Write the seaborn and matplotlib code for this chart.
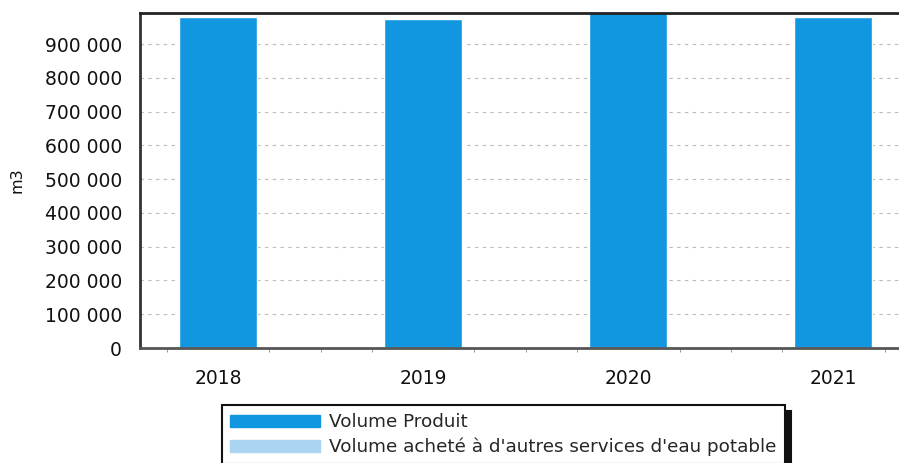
import pandas as pd
import seaborn as sns
import matplotlib.pyplot as plt
from matplotlib.ticker import FuncFormatter, MultipleLocator

# Values
years = ['2018', '2019', '2020', '2021']
volume_produit = [980000, 974000, 995000, 981000]
volume_achete = [0, 0, 0, 0]
series_names = ['Volume Produit', "Volume acheté à d'autres services d'eau potable"]

df = pd.DataFrame({
    'Année': years * 2,
    'm3': volume_produit + volume_achete,
    'Série': [series_names[0]] * 4 + [series_names[1]] * 4,
})

custom_palette = {series_names[0]: '#1196e0', series_names[1]: '#a9d5f2'}

sns.set_style('white')
plt.rcParams['font.family'] = ['DejaVu Sans']

fig = plt.figure(figsize=(8.99, 4.63), dpi=100)
ax = fig.add_axes([140 / 899, 1 - 348 / 463, 1 - 140 / 899, (348 - 13) / 463])

sns.barplot(data=df, x='Année', y='m3', hue='Série', palette=custom_palette,
            dodge=False, width=0.38, saturation=1, ax=ax, legend=False)

ax.set_xlim(-0.38, 3.32)
ax.set_ylim(0, 992000)
ax.yaxis.set_major_locator(MultipleLocator(100000))
ax.yaxis.set_major_formatter(FuncFormatter(lambda v, p: f'{int(v):,}'.replace(',', ' ')))
ax.xaxis.set_minor_locator(MultipleLocator(0.25))
ax.tick_params(axis='y', which='major', length=4, color='#888888', labelsize=13.5, pad=9,
               labelcolor='#111111')
ax.tick_params(axis='x', which='major', length=4, color='#888888', labelsize=13.5, pad=11,
               labelcolor='#111111')
ax.tick_params(axis='x', which='minor', length=3, color='#888888', bottom=True)

for y in range(100000, 1000000, 100000):
    ax.axhline(y, color='#bbbbbb', linestyle=(0, (3, 4)), linewidth=0.8, zorder=0)

ax.spines['left'].set_linewidth(2)
ax.spines['left'].set_color('#333333')
ax.spines['top'].set_linewidth(2)
ax.spines['top'].set_color('#222222')
ax.spines['bottom'].set_linewidth(2)
ax.spines['bottom'].set_color('#555555')
ax.spines['right'].set_visible(False)

ax.set_xlabel('')
ax.set_ylabel('m3', fontsize=11.5, color='#111111')
ax.yaxis.set_label_coords(-0.152, 0.5)

handles = [plt.Rectangle((0, 0), 1, 1, color=custom_palette[s]) for s in series_names]
leg = fig.legend(handles, series_names, loc='upper left', bbox_to_anchor=(222 / 899, 1 - 405 / 463),
                 frameon=True, fancybox=False, fontsize=13.2,
                 shadow={'color': '#111111', 'alpha': 1, 'ox': 4.5, 'oy': -4.5},
                 handlelength=4.9, handleheight=0.6, handletextpad=0.5,
                 labelspacing=0.35, borderpad=0.45, borderaxespad=0)
leg.get_frame().set_edgecolor('#111111')
leg.get_frame().set_linewidth(1.5)
leg.get_frame().set_alpha(1)

plt.savefig('out.png', dpi=100)
